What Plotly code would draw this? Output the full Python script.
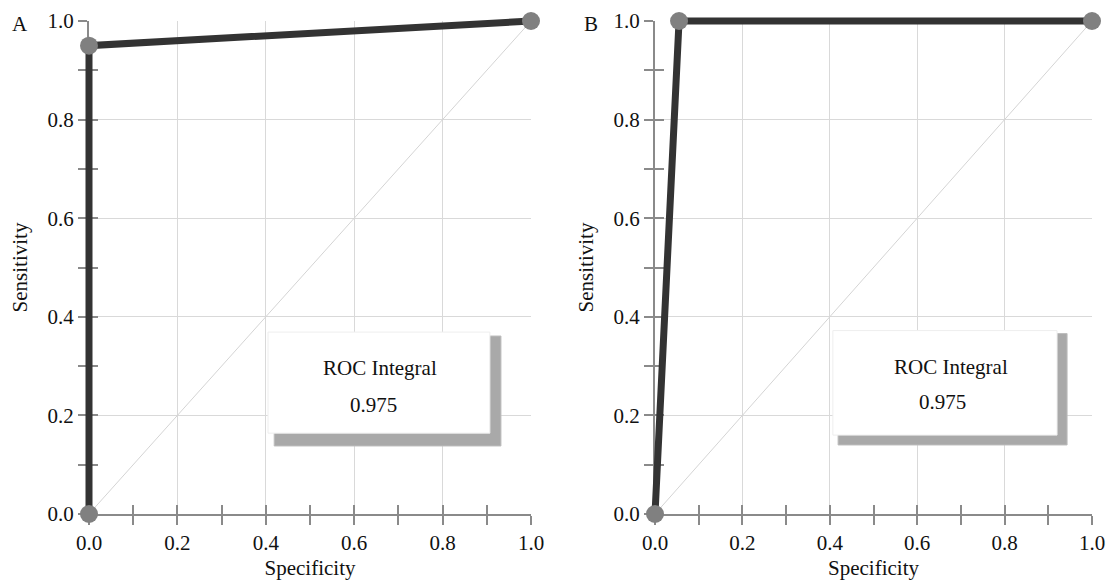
import plotly.graph_objects as go

# Data
spec_a = [0.0, 0.0, 1.0]
sens_a = [0.0, 0.95, 1.0]
spec_b = [0.0, 0.055, 1.0]
sens_b = [0.0, 1.0, 1.0]
diag = [0.0, 1.0]
auc_a = "0.975"
auc_b = "0.975"
panel_labels = ["A", "B"]

FONT = "Liberation Serif"
TXT = "#111111"
AXC = "#8a8a8a"
GRID = "#d9d9d9"
W, H = 1114, 582

# pixel geometry of the panels
ax_a = (89, 531)
ax_b = (655, 1092)
ay = (514, 21)
PAD = 14  # px of extra room for the unclipped curve layer

fig = go.Figure()

def expanded(px_lo, px_hi, pad, total, flip=False):
    span = px_hi - px_lo
    r = [-pad / span, 1 + pad / span]
    lo, hi = px_lo - pad, px_hi + pad
    if flip:
        dom = [(total - hi) / total, (total - lo) / total]
    else:
        dom = [lo / total, hi / total]
    return dom, r

# diagonal on main axes
for xa, ya in [("x", "y"), ("x2", "y2")]:
    fig.add_trace(go.Scatter(x=diag, y=diag, mode="lines", xaxis=xa, yaxis=ya,
                             line=dict(color="#d4d4d4", width=1), hoverinfo="skip",
                             showlegend=False))
for xa, ya in [("x3", "y3"), ("x4", "y4")]:
    fig.add_trace(go.Scatter(x=[None], y=[None], xaxis=xa, yaxis=ya, showlegend=False))

# ROC curves on expanded (invisible) axes so that the thick line is not clipped
for xs, ys, xa, ya in [(spec_a, sens_a, "x5", "y5"), (spec_b, sens_b, "x6", "y6")]:
    fig.add_trace(go.Scatter(x=xs, y=ys, mode="lines+markers", xaxis=xa, yaxis=ya,
                             line=dict(color="#333333", width=7),
                             marker=dict(size=18, color="#808080"),
                             cliponaxis=False, showlegend=False))

dom_a = [ax_a[0] / W, ax_a[1] / W]
dom_b = [ax_b[0] / W, ax_b[1] / W]
dom_y = [(H - ay[0]) / H, (H - ay[1]) / H]

def main_axis(domain, anchor, title, standoff):
    return dict(domain=domain, anchor=anchor, range=[0, 1], tick0=0, dtick=0.2,
                tickformat=".1f", showgrid=True, gridcolor=GRID, gridwidth=1,
                zeroline=False, showline=True, linecolor=AXC, linewidth=2,
                ticks="outside", ticklen=9, tickwidth=2, tickcolor=AXC,
                minor=dict(dtick=0.1, ticks="outside", ticklen=9, tickwidth=2,
                           tickcolor=AXC, showgrid=False),
                tickfont=dict(family=FONT, size=21, color=TXT),
                title=dict(text=title, font=dict(family=FONT, size=21, color=TXT),
                           standoff=standoff),
                automargin=False, layer="below traces", fixedrange=True)

def over_axis(over, anchor):
    return dict(overlaying=over, anchor=anchor, range=[0, 1], tick0=0, dtick=0.2,
                showgrid=False, zeroline=False, showline=False, showticklabels=False,
                ticks="inside", ticklen=9, tickwidth=2, tickcolor=AXC,
                minor=dict(dtick=0.1, ticks="inside", ticklen=9, tickwidth=2,
                           tickcolor=AXC, showgrid=False),
                automargin=False, layer="below traces", fixedrange=True)

def hidden_axis(domain, rng, anchor):
    return dict(domain=domain, range=rng, anchor=anchor, visible=False,
                showgrid=False, zeroline=False, automargin=False, fixedrange=True)

dxa, rxa = expanded(ax_a[0], ax_a[1], PAD, W)
dxb, rxb = expanded(ax_b[0], ax_b[1], PAD, W)
dyy, ryy = expanded(ay[1], ay[0], PAD, H, flip=True)

fig.update_layout(
    width=W, height=H,
    margin=dict(l=0, r=0, t=0, b=0),
    paper_bgcolor="white", plot_bgcolor="rgba(0,0,0,0)",
    xaxis=main_axis(dom_a, "y", "Specificity", 6),
    yaxis=main_axis(dom_y, "x", "Sensitivity", 14),
    xaxis2=main_axis(dom_b, "y2", "Specificity", 6),
    yaxis2=main_axis(dom_y, "x2", "Sensitivity", 14),
    xaxis3=over_axis("x", "y3"),
    yaxis3=over_axis("y", "x3"),
    xaxis4=over_axis("x2", "y4"),
    yaxis4=over_axis("y2", "x4"),
    xaxis5=hidden_axis(dxa, rxa, "y5"),
    yaxis5=hidden_axis(dyy, ryy, "x5"),
    xaxis6=hidden_axis(dxb, rxb, "y6"),
    yaxis6=hidden_axis(dyy, ryy, "x6"),
)

# Boxes with shadows
boxes = [
    ("x", "y", (0.419, 0.932, 0.138, 0.361), (0.405, 0.907, 0.164, 0.369),
     (0.658, 0.296), (0.643, 0.221), auc_a),
    ("x2", "y2", (0.419, 0.943, 0.140, 0.366), (0.407, 0.920, 0.160, 0.372),
     (0.677, 0.298), (0.659, 0.227), auc_b),
]
for xr, yr, sh, bx, t1, t2, auc in boxes:
    fig.add_shape(type="rect", xref=xr, yref=yr, x0=sh[0], x1=sh[1], y0=sh[2], y1=sh[3],
                  fillcolor="#a9a9a9", line=dict(color="#bdbdbd", width=1), layer="above")
    fig.add_shape(type="rect", xref=xr, yref=yr, x0=bx[0], x1=bx[1], y0=bx[2], y1=bx[3],
                  fillcolor="white", line=dict(color="#eeeeee", width=1), layer="above")
    fig.add_annotation(x=t1[0], y=t1[1], xref=xr, yref=yr, text="ROC Integral",
                       showarrow=False, xanchor="center", yanchor="middle",
                       font=dict(family=FONT, size=21, color=TXT))
    fig.add_annotation(x=t2[0], y=t2[1], xref=xr, yref=yr, text=auc,
                       showarrow=False, xanchor="center", yanchor="middle",
                       font=dict(family=FONT, size=21, color=TXT))

# Panel labels
for lbl, px in zip(panel_labels, [20 / W, 591 / W]):
    fig.add_annotation(x=px, y=(H - 24) / H, xref="paper", yref="paper", text=lbl,
                       showarrow=False, xanchor="center", yanchor="middle",
                       font=dict(family=FONT, size=21, color=TXT))

fig.write_html("out.html")
